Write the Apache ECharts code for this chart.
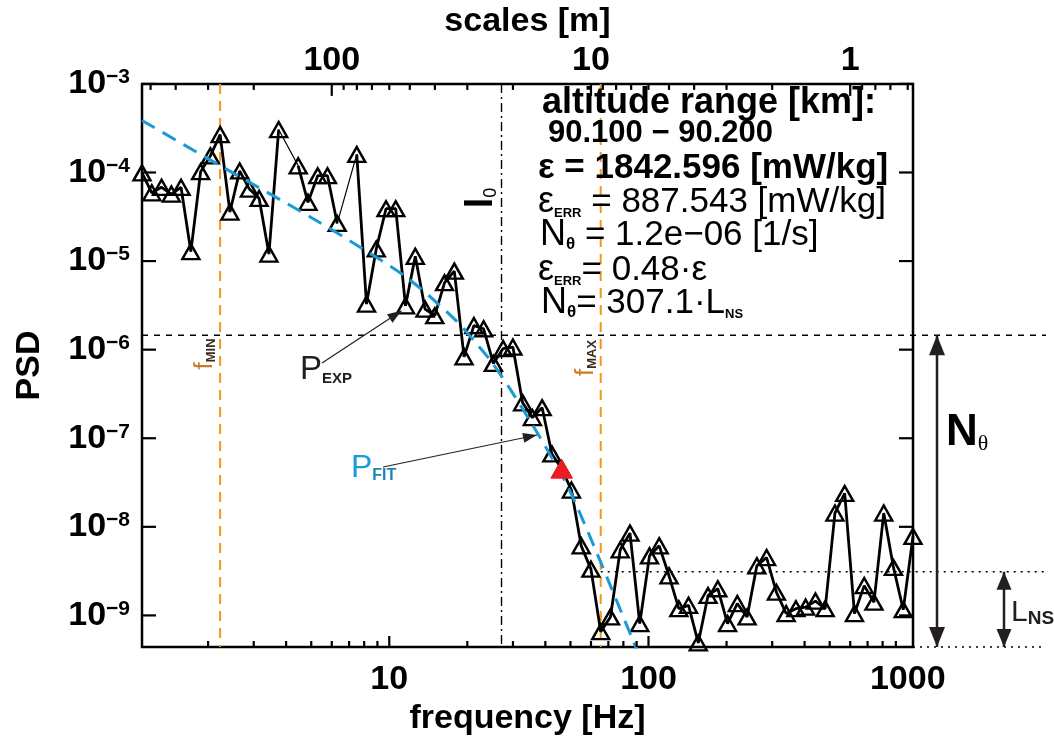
<!DOCTYPE html>
<html>
<head>
<meta charset="utf-8">
<script src="https://cdn.jsdelivr.net/npm/echarts@6/dist/echarts.min.js"></script>
<style>
  html, body { margin: 0; padding: 0; background: #fff; }
  #chart { width: 1054px; height: 743px; }
</style>
</head>
<body>
<div id="chart"></div>
<script>
// ---- spectrum data -------------------------------------------------------
// centre frequencies of the logarithmic bins [Hz]
const freq = [1.112, 1.213, 1.323, 1.443, 1.573, 1.716, 1.872, 2.041, 2.226, 2.428,
  2.648, 2.887, 3.148, 3.434, 3.744, 4.083, 4.453, 4.857, 5.296, 5.776,
  6.299, 6.869, 7.491, 8.168, 8.908, 9.714, 10.59, 11.55, 12.60, 13.74,
  14.98, 16.34, 17.82, 19.43, 21.20, 23.12, 25.21, 27.49, 29.98, 32.69,
  35.65, 38.88, 42.40, 46.25, 50.43, 55.00, 59.98, 65.41, 71.33, 77.79,
  84.84, 92.52, 100.9, 110.0, 120.0, 130.9, 142.7, 155.6, 169.7, 185.1,
  201.8, 220.1, 240.1, 261.8, 285.5, 311.4, 339.6, 370.3, 403.9, 440.5,
  480.4, 523.9, 571.3, 623.1, 679.5, 741.0, 808.2, 881.0, 961.0, 1048];

// measured power spectral density (null = empty bin)
const psd = [9.9e-5, 5.9e-5, 6.8e-5, 5.7e-5, 6.8e-5, 1.28e-5, 1.02e-4, 1.54e-4, 2.68e-4, 3.58e-5,
  1.04e-4, 6.5e-5, 5.1e-5, 1.2e-5, 3.05e-4, null, 1.19e-4, 4.6e-5, 9.2e-5, 9.2e-5,
  2.66e-5, null, 1.6e-4, 3.27e-6, 1.37e-5, 3.9e-5, 3.9e-5, 3.13e-6, 1.13e-5, 2.87e-6,
  2.42e-6, 5.7e-6, 7.7e-6, 8.3e-7, 1.87e-6, 1.72e-6, 7.0e-7, 1.03e-6, 1.07e-6, 2.51e-7,
  1.71e-7, 2.21e-7, 6.65e-8, 4.52e-8, 2.6e-8, 6.1e-9, 3.33e-9, 6.55e-10, 9.6e-10, 5.5e-9,
  8.5e-9, 8.1e-10, 4.7e-9, 6.1e-9, 2.8e-9, 1.19e-9, 1.3e-9, 4.9e-10, 1.68e-9, 2.0e-9,
  8.1e-10, 1.36e-9, 9.6e-10, 3.63e-9, 4.5e-9, 1.83e-9, 1.05e-9, 1.19e-9, 1.24e-9, 1.45e-9,
  1.19e-9, 1.43e-8, 2.38e-8, 1.05e-9, 2.17e-9, 1.41e-9, 1.43e-8, 3.48e-9, 1.16e-9, 7.8e-9];

// fitted model spectrum
const fitFreq = [1.112, 2.167, 5.13, 8.01, 11.95, 18.09, 22.26, 25.05, 29.06, 35.25,
  42.72, 49.55, 59.18, 70.70, 86.98, 95.0];
const fitPsd = [3.87e-4, 1.25e-4, 2.97e-5, 1.34e-5, 6.2e-6, 2.13e-6, 1.07e-6, 7.0e-7, 3.7e-7, 1.5e-7,
  5.8e-8, 2.6e-8, 8.0e-9, 2.3e-9, 5.3e-10, 2.9e-10];

const markedIndex = 43;            // highlighted bin
const fMin = 2.226, fMax = 65.41;  // fit range [Hz]
const l0Freq = 27.1;               // inner scale frequency [Hz]
const nThetaLevel = 1.45e-6;       // upper level of the N_theta bracket
const noiseLevel = 3.11e-9;        // noise level
const psdFloor = 4.4e-10, psdTop = 1e-3;
const scaleConst = 600;            // scale [m] = scaleConst / frequency

const freqTickLabels = [10, 100, 1000];
const scaleTickLabels = [1, 10, 100];
const psdTicks = [1e-3, 1e-4, 1e-5, 1e-6, 1e-7, 1e-8, 1e-9];

const infoLines = [
  '{t1|altitude range [km]:}',
  '{t2|90.100 − 90.200}',
  '{t3|ε = 1842.596 [mW/kg]}',
  '{g|ε}{sub|ERR}{r| = 887.543 [mW/kg]}',
  '{g|N}{th|θ}{r| = 1.2e−06 [1/s]}',
  '{g|ε}{sub|ERR}{r|= 0.48·ε}',
  '{g|N}{th|θ}{r|= 307.1·L}{sub|NS}'
];

// ---- drawing ---------------------------------------------------------------
const FONT = "'Liberation Sans', Arial, Helvetica, sans-serif";
const chart = echarts.init(document.getElementById('chart'), null, { renderer: 'canvas' });
const last = freq.length - 1;

const isDecade = v => Math.abs(Math.log10(v) - Math.round(Math.log10(v))) < 1e-6;
const axisText = { fontFamily: FONT, fontSize: 34, fontWeight: 'bold', color: '#000' };

const option = {
  animation: false,
  backgroundColor: '#fff',
  grid: { left: 142, right: 141, top: 77, bottom: 96, show: true,
          borderColor: '#000', borderWidth: 2.5, backgroundColor: 'transparent' },
  xAxis: [
    {
      type: 'log', min: freq[0], max: freq[last], position: 'bottom',
      axisLine: { show: false }, axisTick: { show: false }, splitLine: { show: false },
      axisLabel: Object.assign({
        margin: 16,
        formatter: v => (isDecade(v) && freqTickLabels.includes(Math.round(v))) ? String(Math.round(v)) : ''
      }, axisText),
      name: 'frequency [Hz]', nameLocation: 'middle', nameGap: 44,
      nameTextStyle: Object.assign({ verticalAlign: 'top' }, axisText)
    },
    {
      type: 'log', min: scaleConst / freq[last], max: scaleConst / freq[0], inverse: true, position: 'top',
      axisLine: { show: false }, axisTick: { show: false }, splitLine: { show: false },
      axisLabel: Object.assign({
        margin: 6,
        formatter: v => (isDecade(v) && scaleTickLabels.includes(Math.round(v))) ? String(Math.round(v)) : ''
      }, axisText),
      name: 'scales [m]', nameLocation: 'middle', nameGap: 40,
      nameTextStyle: Object.assign({ verticalAlign: 'bottom' }, axisText)
    }
  ],
  yAxis: [{
    type: 'log', min: psdFloor, max: psdTop, position: 'left',
    axisLine: { show: false }, axisTick: { show: false }, splitLine: { show: false },
    axisLabel: {
      margin: 12,
      formatter: v => {
        if (!isDecade(v)) return '';
        const e = Math.round(Math.log10(v));
        return '{b|10}{e|' + (e < 0 ? '−' : '') + Math.abs(e) + '}';
      },
      rich: {
        b: { fontFamily: FONT, fontSize: 34, fontWeight: 'bold', color: '#000', verticalAlign: 'bottom', lineHeight: 34 },
        e: { fontFamily: FONT, fontSize: 21, fontWeight: 'bold', color: '#000', verticalAlign: 'top', lineHeight: 22, padding: [0, 0, 18, 0] }
      }
    },
    name: 'PSD', nameLocation: 'middle', nameGap: 95, nameRotate: 90,
    nameTextStyle: Object.assign({ verticalAlign: 'bottom' }, axisText)
  }],
  series: [
    { // thin connectors bridging empty bins
      type: 'line', silent: true, symbol: 'none', z: 2,
      data: freq.map((f, i) => psd[i] == null ? null : [f, psd[i]]).filter(d => d),
      lineStyle: { color: '#000', width: 1.2 }
    },
    { // measured spectrum
      name: 'P_EXP', type: 'line', silent: true, z: 3, connectNulls: false, showAllSymbol: true,
      data: freq.map((f, i) => [f, psd[i] == null ? '-' : psd[i]]),
      symbol: 'triangle', symbolSize: [17, 15],
      itemStyle: { color: 'rgba(255,255,255,0)', borderColor: '#000', borderWidth: 2.4 },
      lineStyle: { color: '#000', width: 2.8 }
    },
    { // fitted spectrum
      name: 'P_FIT', type: 'line', silent: true, z: 4, symbol: 'none', smooth: 0.3,
      data: fitFreq.map((f, i) => [f, fitPsd[i]]),
      lineStyle: { color: '#1b9ad6', width: 3, type: [15, 9] }
    },
    { // highlighted bin
      type: 'scatter', silent: true, z: 5, symbol: 'triangle', symbolSize: [23, 20],
      data: [[freq[markedIndex], psd[markedIndex]]],
      itemStyle: { color: '#ec1c24', opacity: 1 }
    }
  ]
};
chart.setOption(option);

// ---- ticks, reference lines, arrows and annotations ------------------------
const px = (f, v) => chart.convertToPixel({ xAxisIndex: 0, yAxisIndex: 0 }, [f, v]);
const [gLeft, gTop] = px(freq[0], psdTop);
const [gRight, gBottom] = px(freq[last], psdFloor);
const outerRight = 1046;
const g = [];

function seg(x1, y1, x2, y2, style, z) {
  g.push({ type: 'line', silent: true, z: z == null ? 1 : z, shape: { x1, y1, x2, y2 }, style });
}
const tickStyle = { stroke: '#000', lineWidth: 2.2 };

// frequency axis ticks (bottom)
[1, 10, 100].forEach(d => {
  for (let m = 1; m <= 9; m++) {
    const v = m * d;
    if (v <= freq[0] || v >= freq[last]) continue;
    const x = px(v, psdTop)[0];
    seg(x, gBottom, x, gBottom - (m === 1 ? 11 : 6), tickStyle, 15);
  }
});
// scale axis ticks (top)
[0.1, 1, 10, 100].forEach(d => {
  for (let m = 1; m <= 9; m++) {
    const f = scaleConst / (m * d);
    if (f <= freq[0] || f >= freq[last]) continue;
    const x = px(f, psdTop)[0];
    seg(x, gTop, x, gTop + (m === 1 ? 12 : 6), tickStyle, 15);
  }
});
// PSD ticks (left and right)
psdTicks.forEach(v => {
  const y = px(freq[0], v)[1];
  seg(gLeft, y, gLeft + 14, y, tickStyle, 15);
  seg(gRight, y, gRight - 14, y, tickStyle, 15);
});

function vline(f, style) {
  const x = px(f, psdTop)[0];
  seg(x, gTop, x, gBottom, style, 1);
}
function hline(x1, x2, v, style) {
  const y = px(freq[0], v)[1];
  seg(x1, y, x2, y, style, 1);
}
function head(tx, ty, dx, dy, len, hw, color) {
  const n = Math.hypot(dx, dy), ux = dx / n, uy = dy / n;
  const bx = tx - ux * len, by = ty - uy * len;
  g.push({ type: 'polygon', silent: true, z: 20,
    shape: { points: [[tx, ty], [bx - uy * hw, by + ux * hw], [bx + uy * hw, by - ux * hw]] },
    style: { fill: color } });
}
function arrow(x1, y1, x2, y2, w, len, hw, color, both) {
  seg(x1, y1, x2, y2, { stroke: color, lineWidth: w }, 20);
  head(x2, y2, x2 - x1, y2 - y1, len, hw, color);
  if (both) head(x1, y1, x1 - x2, y1 - y2, len, hw, color);
}
function label(x, y, text, rich) {
  g.push({ type: 'text', silent: true, z: 20, x, y,
    style: { text, rich, fontFamily: FONT, align: 'left', verticalAlign: 'middle' } });
}

vline(fMin, { stroke: '#f7941d', lineWidth: 2, lineDash: [10, 7] });
vline(fMax, { stroke: '#f7941d', lineWidth: 2, lineDash: [10, 7] });
vline(l0Freq, { stroke: '#000', lineWidth: 1.4, lineDash: [9, 4, 2, 4] });
hline(gLeft, outerRight, nThetaLevel, { stroke: '#000', lineWidth: 1.5, lineDash: [6, 6] });
hline(px(fMax, psdTop)[0], outerRight, noiseLevel, { stroke: '#000', lineWidth: 1.5, lineDash: [2, 5] });
hline(gRight, outerRight, psdFloor, { stroke: '#000', lineWidth: 1.5, lineDash: [2, 5] });

// N_theta and L_NS brackets
const yN = px(freq[0], nThetaLevel)[1], yNoise = px(freq[0], noiseLevel)[1], yFloor = gBottom;
arrow(937, yN, 937, yFloor, 2.5, 20, 8, '#231f20', true);
arrow(1004, yNoise, 1004, yFloor, 2.5, 18, 7.5, '#231f20', true);
label(946, 433, '{n|N}{th|θ}', {
  n: { fontFamily: FONT, fontSize: 44, fontWeight: 'bold', fill: '#000', verticalAlign: 'bottom', lineHeight: 44 },
  th: { fontFamily: "'Liberation Serif', serif", fontSize: 22, fill: '#000', verticalAlign: 'bottom', lineHeight: 18 }
});
label(1011, 613, '{l|L}{s|NS}', {
  l: { fontFamily: FONT, fontSize: 30, fill: '#231f20', verticalAlign: 'bottom', lineHeight: 30 },
  s: { fontFamily: FONT, fontSize: 19, fontWeight: 'bold', fill: '#231f20', verticalAlign: 'bottom', lineHeight: 22 }
});

// P_EXP / P_FIT pointers
const pExpTip = px(freq[27], psd[27]);
arrow(322, 363, pExpTip[0] - 4, pExpTip[1] + 5, 1.2, 14, 5, '#231f20', false);
label(300, 370, '{p|P}{s|EXP}', {
  p: { fontFamily: FONT, fontSize: 33, fill: '#231f20', verticalAlign: 'bottom', lineHeight: 33 },
  s: { fontFamily: FONT, fontSize: 15, fontWeight: 'bold', fill: '#231f20', verticalAlign: 'bottom', lineHeight: 18 }
});
arrow(383, 467, 537, 435, 1.2, 14, 5, '#231f20', false);
label(351, 468, '{p|P}{s|FIT}', {
  p: { fontFamily: FONT, fontSize: 32, fill: '#1b9ad6', verticalAlign: 'bottom', lineHeight: 32 },
  s: { fontFamily: FONT, fontSize: 16, fontWeight: 'bold', fill: '#1b84b8', verticalAlign: 'bottom', lineHeight: 18 }
});

// rotated labels of the vertical reference lines
const rotLabel = (x, y, text, rich) => g.push({ type: 'text', silent: true, z: 20, x, y, rotation: Math.PI / 2,
  style: { text, rich, fontFamily: FONT, align: 'center', verticalAlign: 'middle' } });
const fRich = {
  f: { fontFamily: FONT, fontSize: 26, fill: '#c97b28', verticalAlign: 'bottom', lineHeight: 26 },
  s: { fontFamily: FONT, fontSize: 13, fontWeight: 'bold', fill: '#3f2c1e', verticalAlign: 'bottom', lineHeight: 15 }
};
rotLabel(px(fMin, psdTop)[0] - 15, 354, '{f|f}{s|MIN}', fRich);
rotLabel(px(fMax, psdTop)[0] - 15, 358, '{f|f}{s|MAX}', fRich);
rotLabel(px(l0Freq, psdTop)[0] - 20, 198, '{l|l}{s|0}', {
  l: { fontFamily: FONT, fontSize: 38, fontWeight: 'bold', fill: '#000', verticalAlign: 'bottom', lineHeight: 38 },
  s: { fontFamily: FONT, fontSize: 18, fill: '#000', verticalAlign: 'bottom', lineHeight: 20 }
});

// information block
const infoRich = {
  t1: { fontFamily: FONT, fontSize: 36, fontWeight: 'bold', fill: '#000' },
  t2: { fontFamily: FONT, fontSize: 31, fontWeight: 'bold', fill: '#000' },
  t3: { fontFamily: FONT, fontSize: 35, fontWeight: 'bold', fill: '#000' },
  g: { fontFamily: FONT, fontSize: 36, fill: '#000', verticalAlign: 'bottom', lineHeight: 36 },
  r: { fontFamily: FONT, fontSize: 35, fill: '#000', verticalAlign: 'bottom', lineHeight: 36 },
  sub: { fontFamily: FONT, fontSize: 13, fontWeight: 'bold', fill: '#000', verticalAlign: 'bottom', lineHeight: 15 },
  th: { fontFamily: FONT, fontSize: 17, fontWeight: 'bold', fill: '#000', verticalAlign: 'bottom', lineHeight: 14 }
};
const infoPos = [[542, 103], [548, 133], [538, 168], [538, 202], [540, 235], [538, 270], [541, 303]];
infoLines.forEach((t, i) => label(infoPos[i][0], infoPos[i][1], t, infoRich));

chart.setOption({ graphic: { elements: g } });
</script>
</body>
</html>
